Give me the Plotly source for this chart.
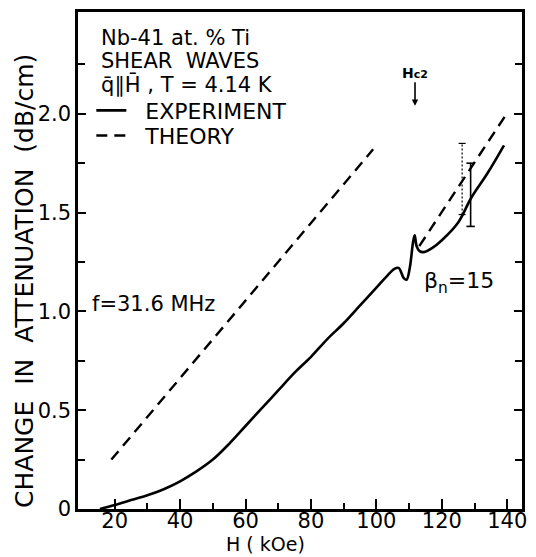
import plotly.graph_objects as go

# ---- data ----
exp_h = [15.5, 20, 25, 30, 35, 40, 45, 50, 55, 60, 65, 70, 75, 80, 85, 90, 95, 100,
         103, 105.5, 106.8, 108.3, 109.2, 110.2, 111.2, 111.7, 112.3, 113.2, 114.5,
         117, 120, 125, 129, 134, 139]
exp_y = [0.0, 0.02, 0.045, 0.07, 0.10, 0.14, 0.19, 0.25, 0.33, 0.42, 0.51, 0.60, 0.69,
         0.77, 0.86, 0.94, 1.03, 1.12, 1.175, 1.215, 1.22, 1.17, 1.16, 1.22, 1.35,
         1.385, 1.33, 1.305, 1.30, 1.32, 1.36, 1.45, 1.575, 1.70, 1.84]

theory_low_h = [19, 99]
theory_low_y = [0.25, 1.82]
theory_high_h = [113.1, 139.8]
theory_high_y = [1.33, 2.0]

err_theory_h = 126.2
err_theory_center = 1.67
err_theory_half = 0.18
err_exp_h = 128.8
err_exp_center = 1.59
err_exp_half = 0.16

hc2_field = 111.8

x_major = [20, 40, 60, 80, 100, 120, 140]
x_minor = [30, 50, 70, 90, 110, 130]
y_major = [0, 0.5, 1.0, 1.5, 2.0]
y_labels = ["0", "0.5", "1.0", "1.5", "2.0"]
y_minor = [0.25, 0.75, 1.25, 1.75, 2.25]

FONT = "DejaVu Sans"
INK = "black"

fig = go.Figure()

fig.add_trace(go.Scatter(
    x=exp_h, y=exp_y, mode="lines", name="\u00a0\u00a0EXPERIMENT", legend="legend",
    line=dict(color=INK, width=2.6, shape="spline", smoothing=1.0),
))
fig.add_trace(go.Scatter(
    x=theory_low_h + [None] + theory_high_h,
    y=theory_low_y + [None] + theory_high_y,
    mode="lines", name="\u00a0\u00a0THEORY", legend="legend2",
    line=dict(color=INK, width=2.4, dash="11px,7px"),
))
# error bars
fig.add_trace(go.Scatter(
    x=[err_theory_h, err_theory_h],
    y=[err_theory_center - err_theory_half, err_theory_center + err_theory_half],
    mode="lines+markers", showlegend=False,
    line=dict(color=INK, width=1.2, dash="2px,2px"),
    marker=dict(symbol="line-ew", size=5, line=dict(color=INK, width=1.2)),
))
fig.add_trace(go.Scatter(
    x=[err_exp_h, err_exp_h],
    y=[err_exp_center - err_exp_half, err_exp_center + err_exp_half],
    mode="lines+markers", showlegend=False,
    line=dict(color=INK, width=1.6),
    marker=dict(symbol="line-ew", size=6, line=dict(color=INK, width=1.6)),
))

ann = []
title_lines = ["Nb-41 at. % Ti", "SHEAR  WAVES", "q\u0304\u2225H\u0304 , T = 4.14 K"]
title_y = [0.948, 0.9016, 0.855]
for t, yy in zip(title_lines, title_y):
    ann.append(dict(text=t, xref="paper", yref="paper", x=0.047, y=yy,
                    xanchor="left", yanchor="middle", showarrow=False,
                    font=dict(family=FONT, size=21, color=INK)))
ann.append(dict(text="f=31.6 MHz", xref="x", yref="y", x=31.8, y=1.035,
                showarrow=False, font=dict(family=FONT, size=21, color=INK)))
ann.append(dict(text="\u03b2<sub>n</sub>=15", xref="x", yref="y", x=125.1, y=1.146,
                showarrow=False, font=dict(family=FONT, size=22, color=INK)))
ann.append(dict(text="<b>H<span style='font-size:11px'>c2</span></b>", xref="x", yref="y",
                x=hc2_field, y=2.04,
                showarrow=True, ax=0, ay=-33, arrowhead=2, arrowsize=0.8,
                arrowwidth=1.6, arrowcolor=INK,
                font=dict(family=FONT, size=14, color=INK)))
ann.append(dict(text="CHANGE  IN  ATTENUATION  (dB/cm)", xref="paper", yref="paper",
                x=-0.1203, y=0.458, textangle=-90, showarrow=False,
                xanchor="center", yanchor="middle",
                font=dict(family=FONT, size=25, color=INK)))
ann.append(dict(text="H ( kOe)", xref="paper", yref="paper", x=0.423, y=-0.070,
                showarrow=False, xanchor="center", yanchor="middle",
                font=dict(family=FONT, size=19, color=INK)))

leg_common = dict(xanchor="left", yanchor="middle", bgcolor="rgba(0,0,0,0)",
                  font=dict(family=FONT, size=22, color=INK), itemwidth=30)
fig.update_layout(
    width=536, height=557,
    margin=dict(l=78, r=9, t=11, b=48),
    paper_bgcolor="white", plot_bgcolor="white",
    font=dict(family=FONT, color=INK),
    annotations=ann,
    legend=dict(x=0.03, y=0.8016, **leg_common),
    legend2=dict(x=0.03, y=0.751, **leg_common),
)
fig.update_xaxes(
    range=[8.8, 144.5], showgrid=False, zeroline=False,
    showline=True, linecolor=INK, linewidth=2.5, mirror=True,
    tickmode="array", tickvals=x_major, ticktext=[str(v) for v in x_major],
    ticks="inside", ticklen=10, tickwidth=2, tickcolor=INK, ticklabelstandoff=-9,
    tickfont=dict(family=FONT, size=21, color=INK),
    minor=dict(tickvals=x_minor, ticks="inside", ticklen=6, tickwidth=2, tickcolor=INK),
)
fig.update_yaxes(
    range=[0, 2.515], showgrid=False, zeroline=False,
    showline=True, linecolor=INK, linewidth=2.5, mirror="ticks",
    tickmode="array", tickvals=y_major, ticktext=y_labels,
    ticks="inside", ticklen=8, tickwidth=2, tickcolor=INK,
    tickfont=dict(family=FONT, size=21, color=INK),
    minor=dict(tickvals=y_minor, ticks="inside", ticklen=7, tickwidth=2, tickcolor=INK),
)

fig.write_html("out.html")
